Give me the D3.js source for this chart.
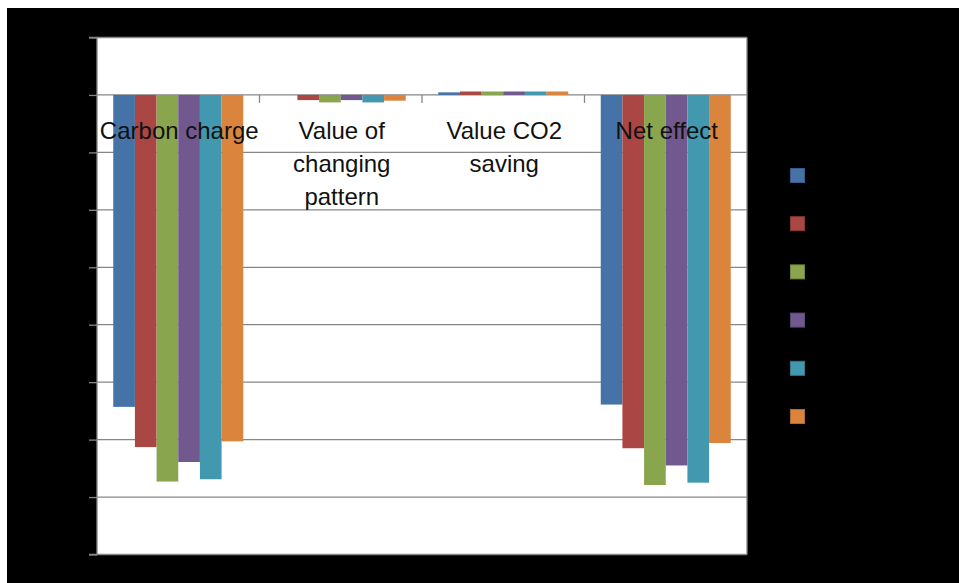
<!DOCTYPE html>
<html>
<head>
<meta charset="utf-8">
<script src="https://cdn.jsdelivr.net/npm/d3@7"></script>
<style>
  html, body { margin: 0; padding: 0; background: #ffffff; }
  svg { display: block; }
</style>
</head>
<body>
<svg id="chart" width="959" height="583"></svg>
<script>
// ---- data ----
const categories = ["Carbon charge", "Value of changing pattern", "Value CO2 saving", "Net effect"];
const categoryLines = [["Carbon charge"], ["Value of", "changing", "pattern"], ["Value CO2", "saving"], ["Net effect"]];
const seriesNames = ["Series 1", "Series 2", "Series 3", "Series 4", "Series 5", "Series 6"];
const series1 = [-5.43, 0.00, 0.045, -5.39];
const series2 = [-6.13, -0.09, 0.06, -6.15];
const series3 = [-6.73, -0.13, 0.06, -6.79];
const series4 = [-6.39, -0.09, 0.06, -6.45];
const series5 = [-6.69, -0.13, 0.06, -6.75];
const series6 = [-6.03, -0.10, 0.06, -6.06];
const yTicks = [1, 0, -1, -2, -3, -4, -5, -6, -7, -8];
const colors = ["#4572A7", "#AA4643", "#89A54E", "#71588F", "#4198AF", "#DB843D"];

const seriesValues = [series1, series2, series3, series4, series5, series6];

// ---- layout ----
const svg = d3.select("#chart");
svg.append("rect").attr("x", 7).attr("y", 8).attr("width", 952).attr("height", 575).attr("fill", "#000");

const plot = { left: 97, right: 747, top: 37.5, bottom: 554.5 };

const x0 = d3.scaleBand().domain(categories).range([plot.left, plot.right])
  .paddingInner(0.2).paddingOuter(0.1);
const x1 = d3.scaleBand().domain(seriesNames).range([0, x0.bandwidth()]);
const y = d3.scaleLinear().domain([-8, 1]).range([plot.bottom, plot.top]);

// plot area
svg.append("rect").attr("x", plot.left).attr("y", plot.top)
  .attr("width", plot.right - plot.left).attr("height", plot.bottom - plot.top)
  .attr("fill", "#fff");

// gridlines
svg.append("g").selectAll("line").data(yTicks).join("line")
  .attr("x1", plot.left).attr("x2", plot.right)
  .attr("y1", d => y(d)).attr("y2", d => y(d))
  .attr("stroke", "#878787").attr("stroke-width", 1.3);

// right border
svg.append("line").attr("x1", plot.right).attr("x2", plot.right)
  .attr("y1", plot.top).attr("y2", plot.bottom)
  .attr("stroke", "#878787").attr("stroke-width", 1.3);

// y axis
const yAxis = d3.axisLeft(y).tickValues(yTicks).tickSize(8).tickFormat("");
const gy = svg.append("g").attr("transform", `translate(${plot.left},0)`).call(yAxis);
gy.selectAll("path, line").attr("stroke", "#878787").attr("stroke-width", 1.3);
gy.select(".domain").attr("d", `M-8,${plot.top}H0V${plot.bottom}H-8`);

// category tick marks on the zero line
const bounds = categories.slice(1).map(c => x0(c) - x0.step() * x0.paddingInner() / 2);
svg.append("g").selectAll("line").data(bounds).join("line")
  .attr("x1", d => d).attr("x2", d => d)
  .attr("y1", y(0)).attr("y2", y(0) + 8)
  .attr("stroke", "#878787").attr("stroke-width", 1.3);

// bars
const groups = svg.append("g").selectAll("g").data(categories).join("g")
  .attr("transform", c => `translate(${x0(c)},0)`);
groups.selectAll("rect").data((c, ci) => seriesNames.map((s, si) => ({ s, si, v: seriesValues[si][ci] })))
  .join("rect")
  .attr("x", d => x1(d.s))
  .attr("width", x1.bandwidth())
  .attr("y", d => Math.min(y(0), y(d.v)))
  .attr("height", d => Math.abs(y(d.v) - y(0)))
  .attr("fill", d => colors[d.si]);

// category labels (drawn over bars)
const labels = svg.append("g").selectAll("text").data(categories).join("text")
  .attr("x", c => x0(c) + x0.bandwidth() / 2 + 1)
  .attr("y", y(0) + 44)
  .attr("text-anchor", "middle")
  .attr("font-family", "'Liberation Sans', Arial, sans-serif")
  .attr("font-size", 24)
  .attr("fill", "#111");
labels.each(function (c, i) {
  d3.select(this).selectAll("tspan").data(categoryLines[i]).join("tspan")
    .attr("x", x0(c) + x0.bandwidth() / 2 + 1)
    .attr("dy", (d, j) => j === 0 ? 0 : 33)
    .text(d => d);
});

// legend
const legend = svg.append("g").selectAll("rect").data(seriesNames).join("rect")
  .attr("x", 790.5).attr("y", (d, i) => 168.5 + i * 48.2)
  .attr("width", 14).attr("height", 14)
  .attr("fill", (d, i) => colors[i])
  .attr("stroke", (d, i) => d3.color(colors[i]).darker(0.6))
  .attr("stroke-width", 1);
</script>
</body>
</html>
